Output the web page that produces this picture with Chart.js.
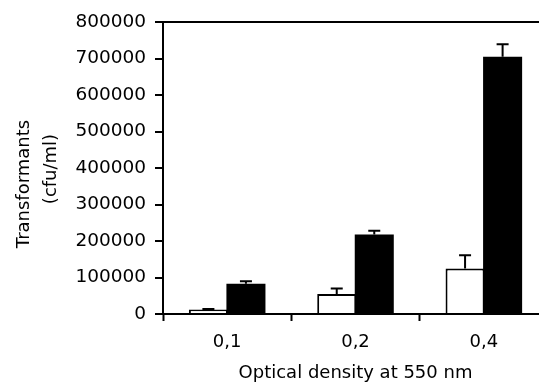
<!DOCTYPE html>
<html>
<head>
<meta charset="utf-8">
<script src="https://cdn.jsdelivr.net/npm/chart.js@4"></script>
<style>
  html, body { margin: 0; padding: 0; background: #fff; overflow: hidden; }
</style>
</head>
<body>
<canvas id="myChart" width="548" height="392"></canvas>
<script>
const categories = ['0,1', '0,2', '0,4'];
const openValues = [12000, 55000, 125000];
const openErrors = [2000, 15000, 36000];
const filledValues = [83000, 218000, 705000];
const filledErrors = [7000, 10000, 34000];
const yTicks = [0, 100000, 200000, 300000, 400000, 500000, 600000, 700000, 800000];
const yTitle = ['Transformants', '(cfu/ml)'];
const xTitle = 'Optical density at 550 nm';

Chart.defaults.font.family = "'DejaVu Sans', sans-serif";
Chart.defaults.color = '#000';

// upward error bars with a small cap
const errorBars = {
    id: 'errorBars',
    afterDatasetsDraw(chart) {
        const ctx = chart.ctx;
        const y = chart.scales.y;
        chart.data.datasets.forEach((ds, i) => {
            chart.getDatasetMeta(i).data.forEach((bar, j) => {
                const top = y.getPixelForValue(ds.data[j] + ds.errors[j]);
                ctx.save();
                ctx.strokeStyle = '#000';
                ctx.lineWidth = 2;
                ctx.beginPath();
                ctx.moveTo(bar.x, bar.y);
                ctx.lineTo(bar.x, top);
                ctx.moveTo(bar.x - 6, top);
                ctx.lineTo(bar.x + 6, top);
                ctx.stroke();
                ctx.restore();
            });
        });
    }
};

// two-line rotated y title, placed like the original
const yTitlePlugin = {
    id: 'yTitlePlugin',
    afterDraw(chart) {
        const ctx = chart.ctx;
        ctx.save();
        ctx.fillStyle = '#000';
        ctx.font = "18px 'DejaVu Sans'";
        ctx.textAlign = 'center';
        ctx.textBaseline = 'alphabetic';
        [[29, 184], [56, 169]].forEach((p, i) => {
            ctx.save();
            ctx.translate(p[0], p[1]);
            ctx.rotate(-Math.PI / 2);
            ctx.fillText(yTitle[i], 0, 0);
            ctx.restore();
        });
        ctx.restore();
    }
};

let ctx = document.getElementById('myChart').getContext('2d');
new Chart(ctx, {
    type: 'bar',
    data: {
        labels: categories,
        datasets: [
            {
                label: 'open',
                data: openValues,
                errors: openErrors,
                backgroundColor: '#fff',
                borderColor: '#000',
                borderWidth: 2
            },
            {
                label: 'filled',
                data: filledValues,
                errors: filledErrors,
                backgroundColor: '#000',
                borderColor: '#000',
                borderWidth: 0
            }
        ]
    },
    options: {
        responsive: false,
        animation: false,
        devicePixelRatio: 1,
        categoryPercentage: 0.585,
        barPercentage: 1.04,
        layout: { padding: { top: 22, right: 0, bottom: 0, left: 0 } },
        plugins: {
            legend: { display: false },
            tooltip: { enabled: false }
        },
        scales: {
            x: {
                grid: {
                    drawOnChartArea: false,
                    offset: true,
                    tickLength: 7,
                    tickWidth: 2,
                    tickColor: '#000'
                },
                border: { color: '#000', width: 2 },
                ticks: { font: { size: 18 }, padding: 11 },
                title: {
                    display: true,
                    text: xTitle,
                    font: { size: 18 },
                    padding: { top: 0, bottom: 8 }
                },
                afterFit(scale) { scale.height = 78; }
            },
            y: {
                min: 0,
                max: 800000,
                afterBuildTicks(scale) {
                    scale.ticks = yTicks.map(v => ({ value: v }));
                },
                grid: {
                    color: c => (c.tick && c.tick.value === 800000) ? '#000' : 'rgba(0,0,0,0)',
                    lineWidth: 2,
                    tickLength: 8,
                    tickWidth: 2,
                    tickColor: '#000'
                },
                border: { color: '#000', width: 2 },
                ticks: { font: { size: 18.5 }, padding: 9, callback: v => String(v) },
                afterFit(scale) { scale.width = 163; }
            }
        }
    },
    plugins: [errorBars, yTitlePlugin]
});
</script>
</body>
</html>
